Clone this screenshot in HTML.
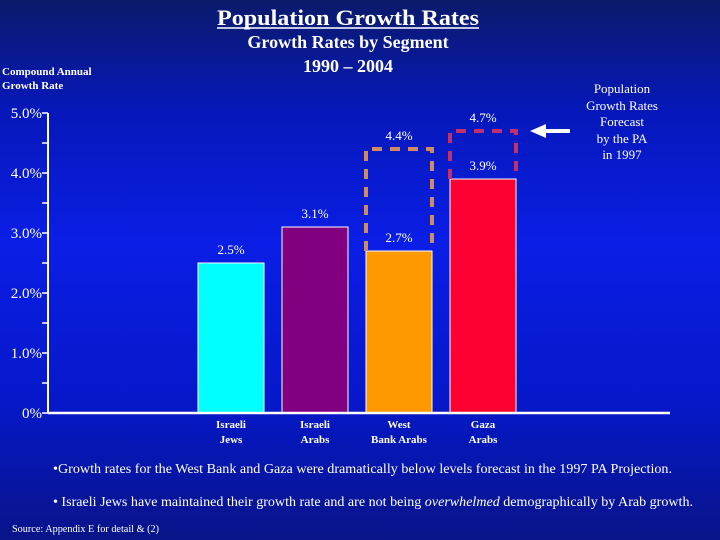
<!DOCTYPE html>
<html><head><meta charset="utf-8"><style>
html,body{margin:0;padding:0;width:720px;height:540px;overflow:hidden}
svg{display:block;font-family:"Liberation Serif",serif}
</style></head><body>
<svg id="chart" width="720" height="540" viewBox="0 0 720 540" xmlns="http://www.w3.org/2000/svg">
<defs><linearGradient id="bg" x1="0" y1="0" x2="0" y2="1">
<stop offset="0" stop-color="#0b1a6a"/><stop offset="0.2" stop-color="#0618b8"/><stop offset="0.45" stop-color="#0a1ee6"/><stop offset="0.75" stop-color="#0618c8"/><stop offset="1" stop-color="#081488"/></linearGradient></defs>
<rect width="720" height="540" fill="url(#bg)"/>
<text x="217" y="25" font-size="22" font-weight="bold" fill="#fff" textLength="262" lengthAdjust="spacingAndGlyphs">Population Growth Rates</text>
<line x1="217" y1="28" x2="479" y2="28" stroke="#fff" stroke-width="1.5"/>
<text x="348" y="48" text-anchor="middle" font-size="18" font-weight="bold" fill="#fff">Growth Rates by Segment</text>
<text x="348" y="72" text-anchor="middle" font-size="18" font-weight="bold" fill="#fff">1990 – 2004</text>
<text font-size="11" font-weight="bold" fill="#fff"><tspan x="2" y="75">Compound Annual</tspan><tspan x="2" y="89">Growth Rate</tspan></text>
<text font-size="13" fill="#fff" text-anchor="middle"><tspan x="622" y="93">Population</tspan><tspan x="622" y="110">Growth Rates</tspan><tspan x="622" y="126">Forecast</tspan><tspan x="622" y="143">by the PA</tspan><tspan x="622" y="159">in 1997</tspan></text>
<g><line x1="544" y1="131" x2="570" y2="131" stroke="#fff" stroke-width="4"/><polygon points="530,131 546,124 546,138" fill="#fff"/></g>
<g id="plot"></g>
<text x="53" y="473" font-size="14" fill="#fff" textLength="619" lengthAdjust="spacingAndGlyphs">•Growth rates for the West Bank and Gaza were dramatically below levels forecast in the 1997 PA Projection.</text>
<text x="53" y="506" font-size="14" fill="#fff" textLength="640" lengthAdjust="spacingAndGlyphs">•  Israeli Jews have maintained their growth rate and are not being <tspan font-style="italic">overwhelmed</tspan> demographically by Arab growth.</text>
<text x="12" y="532" font-size="10" fill="#fff" textLength="147" lengthAdjust="spacingAndGlyphs">Source: Appendix E for detail &amp; (2)</text>
</svg>
<script>
const categories=[["Israeli","Jews"],["Israeli","Arabs"],["West","Bank Arabs"],["Gaza","Arabs"]];
const actualValues=[2.5,3.1,2.7,3.9];
const forecastValues=[null,null,4.4,4.7];
const barColors=["#00ffff","#800080","#ff9900","#ff0033"];
const forecastColors=[null,null,"#d08a60","#c0306a"];
const yTicks=[0,1,2,3,4,5];
const yTickLabels=["0%","1.0%","2.0%","3.0%","4.0%","5.0%"];
const NS="http://www.w3.org/2000/svg";
const g=document.getElementById('plot');
const y0=413,pxPer=60,axisX=48,axisEnd=670;
function y(v){return y0-v*pxPer;}
function x(i){return 198+i*84;}
const bw=66;
function mk(t,a){const e=document.createElementNS(NS,t);for(const k in a)e.setAttribute(k,a[k]);g.appendChild(e);return e;}
categories.forEach((c,i)=>{
  const b=mk('rect',{x:x(i),y:y(actualValues[i]),width:bw,height:y0-y(actualValues[i]),fill:barColors[i],stroke:'#fff','stroke-width':1});
  
  
  const l=mk('text',{x:x(i)+bw/2,y:y(actualValues[i])-9,'text-anchor':'middle','font-size':13,fill:'#fff'});
  l.textContent=actualValues[i].toFixed(1)+'%';
  
  
  if(forecastValues[i]!=null){
    const f=mk('path',{d:`M${x(i)},${y(actualValues[i])} V${y(forecastValues[i])} H${x(i)+bw} V${y(actualValues[i])}`,fill:'none',stroke:forecastColors[i],'stroke-width':4,'stroke-dasharray':'10,8'});
    
    
    const fl=mk('text',{x:x(i)+bw/2,y:y(forecastValues[i])-9,'text-anchor':'middle','font-size':13,fill:'#fff'});
    fl.textContent=forecastValues[i].toFixed(1)+'%';
    
    
  }
  c.forEach((s,j)=>{
    const t=mk('text',{x:x(i)+bw/2,y:428+j*15,'text-anchor':'middle','font-size':11,'font-weight':'bold',fill:'#fff'});
    t.textContent=s;
    
    
  });
});
const ax=mk('line',{x1:axisX,y1:y(5),x2:axisX,y2:y0,stroke:'#fff','stroke-width':2});


const xa=mk('line',{x1:axisX,y1:y0,x2:axisEnd,y2:y0,stroke:'#fff','stroke-width':2.5});


for(let v=0;v<=5;v+=0.5){mk('line',{x1:axisX-6,y1:y(v),x2:axisX,y2:y(v),stroke:'#fff','stroke-width':1.5});}
yTicks.forEach((v,i)=>{
  const t=mk('text',{x:42,y:y(v)+5,'text-anchor':'end','font-size':15,fill:'#fff'});
  t.textContent=yTickLabels[i];
  
  
});
</script>
</body></html>
